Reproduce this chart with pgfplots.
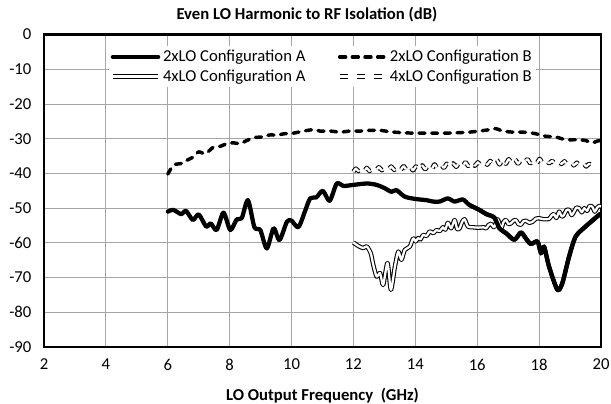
\documentclass[border=0pt]{standalone}
\usepackage{fontspec}
\setmainfont{Carlito}
\usepackage{pgfplots}
\pgfplotsset{compat=1.18}
\usetikzlibrary{calc}

\newcommand{\cfont}{\fontsize{12.5}{15}\selectfont}

\pgfplotsset{
  xl line/.style={line width=#1, line cap=round, line join=round},
}

\begin{document}
\begin{tikzpicture}[font=\cfont]
\begin{axis}[
  scale only axis,
  width=417.75pt, height=234.4pt,
  xmin=2, xmax=20, ymin=-90, ymax=0,
  xtick={2,4,...,20}, ytick={-90,-80,...,0},
  major tick length=0pt,
  grid=major,
  major grid style={draw=black!35, line width=0.7pt},
  axis line style={draw=black, line width=2pt},
  /pgf/number format/assume math mode=true,
  tick label style={font=\cfont},
  xticklabel style={yshift=-5.5pt},
  yticklabel style={xshift=-6pt},
  xlabel={LO Output Frequency~~(GHz)},
  xlabel style={font=\cfont\bfseries, yshift=-6pt},
  title={Even LO Harmonic to RF Isolation (dB)},
  title style={font=\cfont\bfseries, at={(axis description cs:0.472,1)}, anchor=center, yshift=9pt},
  legend columns=2,
  legend style={at={(axis cs:11,-3.3)}, anchor=north, draw=none, fill=white,
    font=\cfont, inner sep=1pt, row sep=0.5pt,
    /tikz/every even column/.append style={column sep=22pt}},
  legend image code/.code={\draw[#1] (0pt,0pt) -- (34pt,0pt);},
]
\coordinate (ll) at (rel axis cs:0,0);
\coordinate (ur) at (rel axis cs:1,1);

% 2xLO Configuration A
\addplot[black, xl line=3.2pt, smooth, tension=0.45] coordinates {
(6.00,-51.0)(6.18,-50.5)(6.43,-51.7)(6.59,-50.8)(6.81,-53.4)(7.00,-51.8)
(7.24,-55.3)(7.39,-54.4)(7.58,-56.3)(7.80,-51.3)(8.02,-56.3)(8.23,-53.2)
(8.39,-52.9)(8.59,-47.7)(8.80,-55.5)(8.99,-56.3)(9.20,-61.6)(9.42,-55.8)
(9.61,-59.2)(9.85,-53.9)(10.00,-53.6)(10.22,-55.5)(10.43,-51.0)(10.60,-47.2)
(10.80,-46.9)(11.01,-45.0)(11.23,-47.9)(11.46,-42.9)(11.68,-43.6)(12.00,-43.3)
(12.43,-42.9)(12.75,-43.3)(13.02,-44.3)(13.23,-45.3)(13.39,-44.8)(13.66,-46.7)
(14.04,-47.4)(14.36,-47.7)(14.57,-48.1)(14.79,-48.1)(15.05,-47.2)(15.27,-48.1)
(15.54,-47.5)(15.75,-49.1)(16.07,-50.5)(16.29,-51.7)(16.55,-52.7)(16.72,-55.8)
(16.93,-57.2)(17.20,-59.1)(17.41,-57.0)(17.57,-58.7)(17.73,-60.3)(17.95,-59.6)
(18.06,-63.0)(18.16,-61.1)(18.32,-66.8)(18.59,-73.5)(18.75,-71.6)(18.97,-63.9)
(19.18,-58.2)(19.50,-55.3)(19.93,-52.0)(20.00,-51.7)};
\addlegendentry{2xLO Configuration A}

% 2xLO Configuration B
\addplot[black, xl line=2.6pt, dash pattern=on 4.5pt off 5pt, smooth, tension=0.45] coordinates {
(6.00,-40.2)(6.19,-37.6)(6.46,-37.1)(6.62,-36.2)(6.84,-35.2)(7.00,-33.8)
(7.22,-34.3)(7.48,-32.4)(7.70,-32.2)(7.91,-31.4)(8.13,-31.2)(8.34,-31.4)
(8.56,-30.5)(8.77,-29.7)(9.04,-29.5)(9.31,-28.9)(9.53,-29.0)(9.74,-28.6)
(10.06,-28.4)(10.39,-27.8)(10.71,-27.4)(10.92,-27.8)(11.25,-27.8)(11.57,-28.1)
(11.89,-27.8)(12.22,-27.8)(12.55,-27.6)(12.87,-27.6)(13.19,-28.0)(13.61,-28.3)
(14.04,-28.4)(14.47,-28.4)(14.90,-28.4)(15.33,-28.3)(15.75,-28.1)(16.07,-27.8)
(16.40,-27.4)(16.61,-27.1)(16.82,-27.8)(17.14,-28.1)(17.46,-28.1)(17.79,-28.4)
(18.00,-28.8)(18.21,-29.3)(18.53,-29.5)(18.86,-30.3)(19.18,-30.3)(19.50,-30.5)
(19.71,-31.2)(19.87,-30.7)(20.00,-30.5)};
\addlegendentry{2xLO Configuration B}

% 4xLO Configuration A
\addplot[black, line width=0.8pt, double=white, double distance=1.7pt, line join=round, smooth, tension=0.45] coordinates {
(12.00,-59.9)(12.16,-60.9)(12.32,-61.5)(12.43,-61.0)(12.56,-63.0)(12.64,-66.3)
(12.75,-69.7)(12.86,-68.7)(12.96,-72.1)(13.10,-65.8)(13.21,-73.5)(13.34,-66.8)
(13.45,-62.5)(13.55,-64.9)(13.66,-62.0)(13.82,-61.1)(13.93,-58.7)(14.01,-59.6)
(14.09,-58.6)(14.17,-59.0)(14.25,-57.7)(14.36,-58.0)(14.47,-56.7)(14.58,-57.2)
(14.68,-56.3)(14.79,-56.6)(14.89,-55.5)(14.97,-56.2)(15.05,-54.2)(15.16,-55.8)
(15.27,-53.4)(15.35,-56.0)(15.43,-55.8)(15.51,-54.0)(15.59,-53.2)(15.70,-55.3)
(15.85,-55.5)(15.97,-55.6)(16.10,-55.6)(16.20,-55.5)(16.29,-55.8)(16.37,-54.8)
(16.45,-54.5)(16.55,-55.5)(16.66,-53.2)(16.77,-55.8)(16.85,-54.0)(16.93,-53.4)
(17.01,-54.6)(17.09,-54.4)(17.17,-53.6)(17.25,-53.4)(17.33,-54.6)(17.41,-54.8)
(17.49,-53.8)(17.57,-53.6)(17.68,-54.2)(17.79,-53.9)(17.90,-53.0)(18.00,-52.9)
(18.15,-53.2)(18.32,-53.1)(18.40,-52.2)(18.48,-51.7)(18.56,-52.8)(18.65,-51.0)
(18.73,-52.4)(18.80,-52.0)(18.88,-50.6)(18.97,-50.5)(19.05,-52.0)(19.13,-51.0)
(19.21,-49.8)(19.29,-50.0)(19.38,-51.2)(19.46,-50.0)(19.55,-50.8)(19.63,-49.4)
(19.72,-49.6)(19.80,-51.0)(19.88,-49.8)(19.95,-49.3)(20.00,-49.6)};
\addlegendentry{4xLO Configuration A}

% 4xLO Configuration B
\addplot[black, line width=0.8pt, double=white, double distance=1.7pt, dash pattern=on 6pt off 7pt, line join=round, smooth, tension=0.45] coordinates {
(12.00,-39.5)(12.08,-38.6)(12.16,-39.3)(12.25,-38.5)(12.34,-39.4)(12.43,-38.4)
(12.52,-39.3)(12.62,-38.4)(12.72,-39.2)(12.82,-38.2)(12.92,-39.1)(13.02,-38.3)
(13.12,-39.0)(13.22,-38.0)(13.32,-39.0)(13.42,-38.0)(13.52,-39.0)(13.62,-37.9)
(13.72,-39.0)(13.82,-37.8)(13.92,-39.1)(14.02,-38.0)(14.12,-39.0)(14.22,-37.7)
(14.32,-38.8)(14.42,-37.6)(14.52,-38.8)(14.62,-37.4)(14.72,-38.6)(14.82,-37.3)
(14.92,-38.4)(15.02,-37.2)(15.12,-38.2)(15.22,-37.1)(15.32,-38.1)(15.42,-36.9)
(15.52,-38.0)(15.62,-36.8)(15.72,-37.9)(15.82,-36.7)(15.92,-37.8)(16.02,-36.8)
(16.12,-37.6)(16.22,-36.6)(16.32,-37.5)(16.42,-36.4)(16.52,-37.3)(16.62,-35.9)
(16.72,-37.4)(16.82,-35.8)(16.92,-37.2)(17.02,-35.9)(17.12,-37.3)(17.22,-36.0)
(17.32,-37.2)(17.42,-36.1)(17.52,-37.0)(17.62,-35.9)(17.72,-37.1)(17.82,-36.0)
(17.92,-37.0)(18.02,-35.8)(18.12,-37.2)(18.22,-36.3)(18.32,-37.1)(18.42,-36.4)
(18.52,-37.2)(18.62,-36.3)(18.72,-37.3)(18.82,-36.5)(18.92,-37.5)(19.02,-36.6)
(19.12,-37.7)(19.22,-36.9)(19.32,-37.9)(19.42,-37.0)(19.52,-38.0)(19.62,-37.2)
(19.70,-37.8)};
\addlegendentry{4xLO Configuration B}

% redraw 2xLO A on top where it crosses
\addplot[black, xl line=3.2pt, smooth, tension=0.45, forget plot] coordinates {
(15.75,-49.1)(16.07,-50.5)(16.29,-51.7)(16.55,-52.7)(16.72,-55.8)(16.93,-57.2)
(17.20,-59.1)(17.41,-57.0)(17.57,-58.7)(17.73,-60.3)(17.95,-59.6)(18.06,-63.0)
(18.16,-61.1)(18.32,-66.8)(18.59,-73.5)(18.75,-71.6)(18.97,-63.9)(19.18,-58.2)
(19.50,-55.3)(19.93,-52.0)(20.00,-51.7)};
\end{axis}
\pgfresetboundingbox
\path[use as bounding box] ($(ll)+(-33pt,-42pt)$) rectangle ($(ur)+(7.5pt,25.9pt)$);
\end{tikzpicture}
\end{document}
